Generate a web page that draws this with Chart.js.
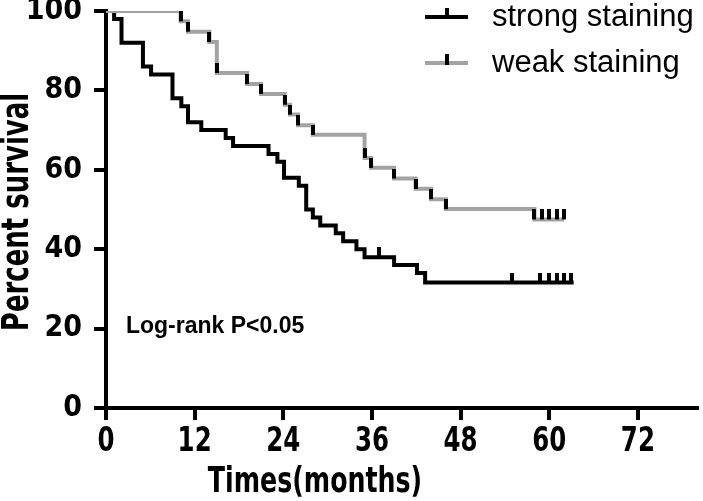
<!DOCTYPE html>
<html>
<head>
<meta charset="utf-8">
<script src="https://cdn.jsdelivr.net/npm/chart.js@4.4.1/dist/chart.umd.min.js"></script>
<style>
body{margin:0;background:#fff;}
#wrap{width:703px;height:501px;}
</style>
</head>
<body>
<div id="wrap"><canvas id="kmChart" width="703" height="501"></canvas></div>
<script>
// KM steps (months, percent surviving)
const strongTimes = [0, 1.1, 2.1, 5.0, 6.1, 9.0, 10.2, 11.1, 12.9, 16.2, 17.2, 22.0, 23.2, 24.1, 26.1, 27.1, 28.0, 29.0, 31.1, 32.1, 33.9, 35.0, 39.0, 42.1, 43.2, 63.3];
const strongSurv  = [100, 98, 92, 86, 84, 78, 76, 72, 70, 68, 66, 64, 62, 58, 56, 50, 48, 46, 44, 42, 40, 38, 36, 34, 31.6, 31.6];
const weakTimes = [0, 10.1, 11.1, 14.0, 15.0, 19.1, 21.0, 24.2, 24.9, 26.0, 28.0, 35.0, 35.9, 39.0, 41.9, 44.0, 46.0, 58.0, 62.0];
const weakSurv  = [100, 97.4, 94.8, 92.2, 84.4, 81.6, 79.1, 76.4, 73.9, 71.2, 68.8, 63.0, 60.5, 57.8, 55.2, 52.6, 50.1, 47.5, 47.5];
// censored cases (tick marks)
const strongCensorTimes = [37.0, 55.0, 58.8, 59.9, 61.0, 62.0, 63.0];
const strongCensorSurv  = [38, 31.6, 31.6, 31.6, 31.6, 31.6, 31.6];
const weakCensorTimes = [10.1, 11.1, 14.0, 15.0, 19.1, 21.0, 24.2, 24.9, 26.0, 28.0, 35.0, 35.9, 39.0, 41.9, 44.0, 46.0, 58.0, 59.0, 60.0, 61.0, 62.0];
const weakCensorSurv  = [97.4, 94.8, 92.2, 84.4, 81.6, 79.1, 76.4, 73.9, 71.2, 68.8, 63.0, 60.5, 57.8, 55.2, 52.6, 50.1, 47.5, 47.5, 47.5, 47.5, 47.5];
const xTickLabels = [0, 12, 24, 36, 48, 60, 72];
const yTickLabels = [0, 20, 40, 60, 80, 100];
const seriesNames = ['strong staining', 'weak staining'];

const GREY = '#a3a3a3';
const NARROW = '"Liberation Sans Narrow", "DejaVu Sans Condensed", "Liberation Sans", sans-serif';

// tick mark that sits on top of the line (lower half transparent)
function censorMark() {
  const c = document.createElement('canvas');
  c.width = 4; c.height = 20;
  const g = c.getContext('2d');
  g.fillStyle = '#000';
  g.fillRect(0, 0, 4, 10);
  return c;
}
const mark = censorMark();

const pts = (xs, ys) => xs.map((x, i) => ({x: x, y: ys[i]}));

// squeezed text, like the narrow bold font of the original
function narrowText(ctx, txt, x, y, size, squeeze, rot) {
  ctx.save();
  ctx.translate(x, y);
  if (rot) ctx.rotate(rot);
  ctx.scale(squeeze, 1);
  ctx.font = 'bold ' + size + 'px ' + NARROW;
  ctx.textAlign = 'center';
  ctx.textBaseline = 'middle';
  ctx.fillStyle = '#000';
  ctx.fillText(txt, 0, 0);
  ctx.restore();
}

// legend, axis labels + annotation drawn on the canvas
const extras = {
  id: 'extras',
  afterDraw(chart) {
    const ctx = chart.ctx;
    const xs = chart.scales.x, ys = chart.scales.y;
    ctx.save();
    const rows = [17, 63];
    [0, 1].forEach(i => {
      const ds = chart.data.datasets[i];
      const y = rows[i];
      ctx.strokeStyle = ds.borderColor;
      ctx.lineWidth = 4;
      ctx.beginPath(); ctx.moveTo(425, y); ctx.lineTo(468, y); ctx.stroke();
      ctx.fillStyle = '#000';
      ctx.fillRect(445, y - 9, 4, 11);
      ctx.font = '31px "Liberation Sans", Arial, sans-serif';
      ctx.textBaseline = 'middle';
      ctx.textAlign = 'left';
      ctx.fillText(ds.label, 492, y);
    });
    ctx.font = 'bold 23px "Liberation Sans", Arial, sans-serif';
    ctx.textBaseline = 'alphabetic';
    ctx.fillText('Log-rank P<0.05', xs.getPixelForValue(2.7), ys.getPixelForValue(19));
    ctx.restore();

    xTickLabels.forEach(v => narrowText(ctx, String(v), xs.getPixelForValue(v), 442, 34, 0.8));
    narrowText(ctx, 'Times(months)', 315, 483, 36, 0.78);
    narrowText(ctx, 'Percent survival', 18.5, 212, 37, 0.78, -Math.PI / 2);
  }
};

new Chart(document.getElementById('kmChart'), {
  type: 'line',
  data: {
    datasets: [
      {label: seriesNames[0], data: pts(strongTimes, strongSurv), stepped: 'before', borderColor: '#000', borderWidth: 4, pointRadius: 0, fill: false, order: 2},
      {label: seriesNames[1], data: pts(weakTimes, weakSurv), stepped: 'before', borderColor: GREY, borderWidth: 4, pointRadius: 0, fill: false, order: 1},
      {label: 'strong censored', data: pts(strongCensorTimes, strongCensorSurv), showLine: false, pointStyle: mark, pointRadius: 5, order: 0},
      {label: 'weak censored', data: pts(weakCensorTimes, weakCensorSurv), showLine: false, pointStyle: mark, pointRadius: 5, order: 0}
    ]
  },
  options: {
    responsive: false,
    animation: false,
    layout: {padding: {top: 11, right: -5, left: 0, bottom: 0}},
    plugins: {legend: {display: false}, tooltip: {enabled: false}},
    scales: {
      x: {
        type: 'linear', min: 0, max: 80,
        afterBuildTicks: s => { s.ticks = xTickLabels.map(v => ({value: v})); },
        afterFit: s => { s.height = 93; s.paddingRight = 0; s.paddingLeft = 0; },
        border: {color: '#000', width: 4},
        grid: {drawOnChartArea: false, color: '#000', lineWidth: 4, tickLength: 12},
        ticks: {color: 'rgba(0,0,0,0)', padding: 4, maxRotation: 0, font: {family: NARROW, weight: 'bold', size: 34}}
      },
      y: {
        min: 0, max: 100,
        afterBuildTicks: s => { s.ticks = yTickLabels.map(v => ({value: v})); },
        afterFit: s => { s.width = 106; s.paddingTop = 0; s.paddingBottom = 0; },
        border: {color: '#000', width: 4},
        grid: {drawOnChartArea: false, color: '#000', lineWidth: 4, tickLength: 12},
        ticks: {color: '#000', padding: 12, font: {family: NARROW, weight: 'bold', size: 30}}
      }
    }
  },
  plugins: [extras]
});
</script>
</body>
</html>
